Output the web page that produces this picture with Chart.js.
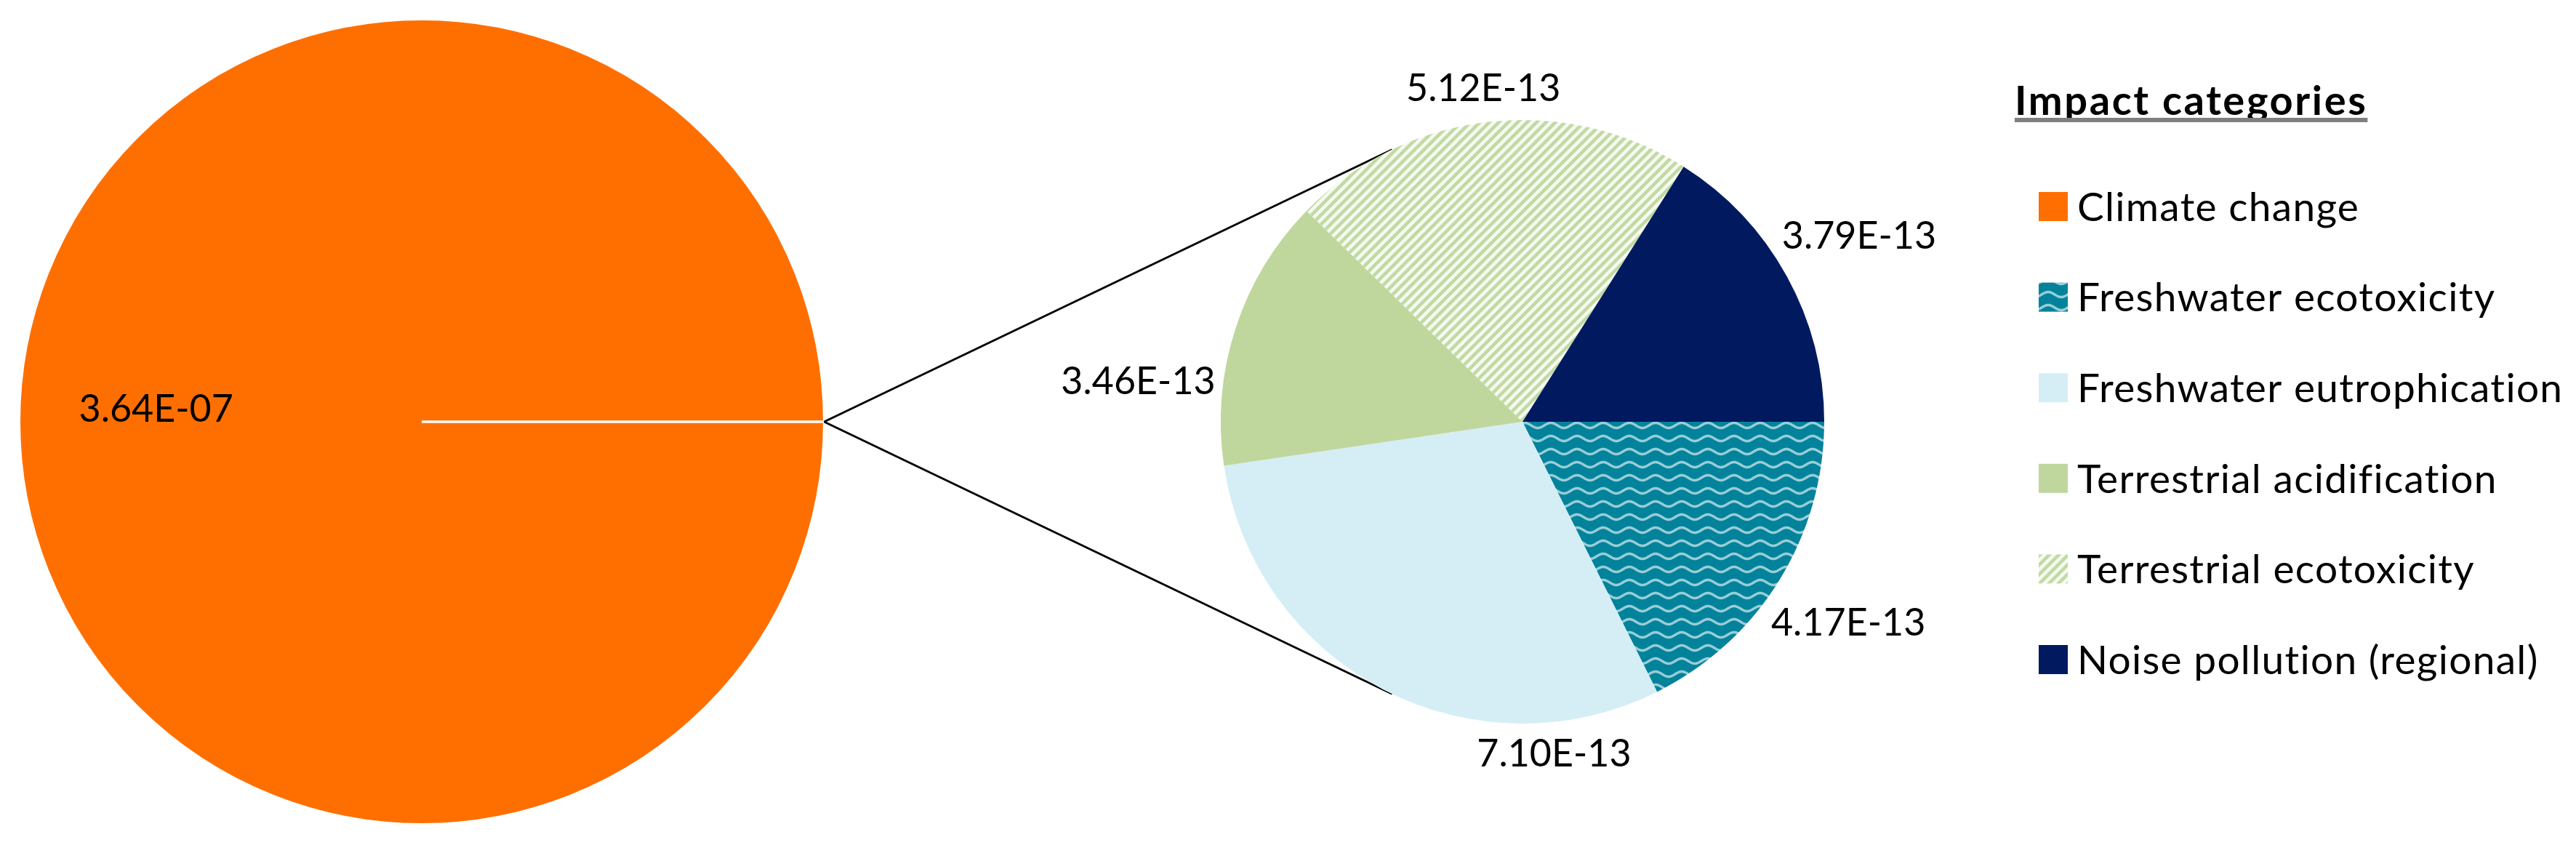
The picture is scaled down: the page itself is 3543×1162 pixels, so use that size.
<!DOCTYPE html>
<html>
<head>
<meta charset="utf-8">
<script src="https://cdn.jsdelivr.net/npm/chart.js@4.4.1/dist/chart.umd.min.js"></script>
<style>
  html, body { margin: 0; padding: 0; background: #fff; }
  #wrap { position: relative; width: 3543px; height: 1162px; overflow: hidden; }
  #wrap canvas { position: absolute; left: 0; top: 0; }
</style>
</head>
<body>
<div id="wrap">
  <canvas id="chartMain" width="3543" height="1162"></canvas>
  <canvas id="chartDetail" width="3543" height="1162"></canvas>
</div>
<script>
// data
const mainCategory = 'Climate change';
const mainValue = 3.64e-7;
const detailCategories = [
  'Freshwater ecotoxicity',
  'Freshwater eutrophication',
  'Terrestrial acidification',
  'Terrestrial ecotoxicity',
  'Noise pollution (regional)',
];
const detailValues = [4.17e-13, 7.10e-13, 3.46e-13, 5.12e-13, 3.79e-13];
const legendTitle = 'Impact categories';

// fills
function wavePattern(base, line) {
  const c = document.createElement('canvas');
  c.width = 36;
  c.height = 18;
  const x = c.getContext('2d');
  x.fillStyle = base;
  x.fillRect(0, 0, 36, 18);
  x.strokeStyle = line;
  x.lineWidth = 3.5;
  x.beginPath();
  for (let i = -2; i <= 38; i++) {
    const yy = 9 - 3.5 * Math.sin((i / 36) * 2 * Math.PI);
    if (i === -2) x.moveTo(i, yy);
    else x.lineTo(i, yy);
  }
  x.stroke();
  return x.createPattern(c, 'repeat');
}

function hatchPattern(base, line) {
  const s = 13;
  const c = document.createElement('canvas');
  c.width = s;
  c.height = s;
  const x = c.getContext('2d');
  x.fillStyle = base;
  x.fillRect(0, 0, s, s);
  x.strokeStyle = line;
  x.lineWidth = 4.5;
  x.beginPath();
  x.moveTo(-s / 2, s / 2);
  x.lineTo(s / 2, -s / 2);
  x.moveTo(0, s);
  x.lineTo(s, 0);
  x.moveTo(s / 2, s * 1.5);
  x.lineTo(s * 1.5, s / 2);
  x.stroke();
  return x.createPattern(c, 'repeat');
}

const mainColor = '#ff6f00';
const detailColors = [
  wavePattern('#02839b', 'rgba(255,255,255,0.6)'),
  '#d5eef6',
  '#bfd79d',
  hatchPattern('#c2daa3', '#f6faf1'),
  '#011a5f',
];

function sci(v) {
  const [m, e] = v.toExponential(2).split('e');
  const n = Math.abs(parseInt(e, 10));
  return m + 'E' + (e[0] === '-' ? '-' : '+') + String(n).padStart(2, '0');
}

const valueLabels = {
  id: 'valueLabels',
  afterDatasetsDraw(chart, args, opts) {
    const ctx = chart.ctx;
    const meta = chart.getDatasetMeta(0);
    const values = chart.data.datasets[0].data;
    ctx.save();
    ctx.font = opts.size + 'px Lato';
    ctx.fillStyle = '#000';
    meta.data.forEach((arc, i) => {
      const name = chart.data.labels[i];
      if (name === opts.skipLabel) return;
      const p = arc.getProps(['x', 'y', 'startAngle', 'endAngle', 'outerRadius'], true);
      const shift = (opts.shift && opts.shift[name]) || 0;
      const a = (p.startAngle + p.endAngle) / 2 + (shift * Math.PI) / 180;
      const ux = Math.cos(a);
      const uy = Math.sin(a);
      const text = sci(values[i]);
      if (opts.inside) {
        ctx.textAlign = 'center';
        ctx.textBaseline = 'alphabetic';
        ctx.fillText(text, p.x + ux * p.outerRadius * opts.inside, p.y + uy * p.outerRadius * opts.inside);
      } else {
        const w = ctx.measureText(text).width;
        const d = p.outerRadius + opts.gap + (Math.abs(ux) * w) / 2 + (Math.abs(uy) * opts.size) / 2;
        ctx.textAlign = 'center';
        ctx.textBaseline = 'middle';
        ctx.fillText(text, p.x + ux * d, p.y + uy * d);
      }
    });
    ctx.restore();
  },
};

const chartMain = new Chart(document.getElementById('chartMain'), {
  type: 'pie',
  data: {
    labels: [mainCategory, 'Other'],
    datasets: [
      {
        data: [mainValue, detailValues.reduce((a, b) => a + b, 0)],
        backgroundColor: [mainColor, mainColor],
        borderColor: '#ffffff',
        borderWidth: 3,
      },
    ],
  },
  options: {
    responsive: false,
    animation: false,
    events: [],
    rotation: 90,
    layout: { padding: { left: 25, top: 25, right: 2408, bottom: 27 } },
    plugins: {
      legend: { display: false },
      tooltip: { enabled: false },
      valueLabels: { size: 52, inside: 0.66, skipLabel: 'Other' },
    },
  },
  plugins: [valueLabels],
});

// series lines from the big pie to the small one
const connectors = {
  id: 'connectors',
  beforeDatasetsDraw(chart) {
    const ctx = chart.ctx;
    const bp = chartMain
      .getDatasetMeta(0)
      .data[1].getProps(['x', 'y', 'startAngle', 'endAngle', 'outerRadius'], true);
    const a = (bp.startAngle + bp.endAngle) / 2;
    const px = bp.x + bp.outerRadius * Math.cos(a);
    const py = bp.y + bp.outerRadius * Math.sin(a);
    const sp = chart.getDatasetMeta(0).data[0].getProps(['x', 'y', 'outerRadius'], true);
    const d = Math.hypot(px - sp.x, py - sp.y);
    const base = Math.atan2(py - sp.y, px - sp.x);
    const t = Math.acos(sp.outerRadius / d);
    ctx.save();
    ctx.strokeStyle = '#000';
    ctx.lineWidth = 3;
    [base - t, base + t].forEach((ang) => {
      ctx.beginPath();
      ctx.moveTo(px, py);
      ctx.lineTo(sp.x + sp.outerRadius * Math.cos(ang), sp.y + sp.outerRadius * Math.sin(ang));
      ctx.stroke();
    });
    ctx.restore();
  },
};

const sideLegend = {
  id: 'sideLegend',
  afterDraw(chart, args, opts) {
    const ctx = chart.ctx;
    const names = [mainCategory, ...detailCategories];
    const fills = [mainColor, ...detailColors];
    ctx.save();
    ctx.textAlign = 'left';
    ctx.textBaseline = 'alphabetic';
    ctx.font = 'bold ' + opts.titleSize + 'px Lato';
    ctx.letterSpacing = opts.titleSpacing;
    ctx.fillStyle = '#000';
    ctx.fillText(legendTitle, opts.x, opts.titleY);
    const tw = ctx.measureText(legendTitle).width;
    ctx.fillStyle = '#7f7f7f';
    ctx.fillRect(opts.x, opts.titleY + 4, tw, 6);
    ctx.font = opts.size + 'px Lato';
    ctx.letterSpacing = opts.spacing;
    names.forEach((n, i) => {
      const yc = opts.firstY + i * opts.step;
      ctx.fillStyle = fills[i];
      ctx.fillRect(opts.boxX, yc - opts.box / 2, opts.box, opts.box);
      ctx.fillStyle = '#000';
      ctx.fillText(n, opts.boxX + opts.box + 13, yc + opts.size * 0.36);
    });
    ctx.restore();
  },
};

const chartDetail = new Chart(document.getElementById('chartDetail'), {
  type: 'pie',
  data: {
    labels: detailCategories,
    datasets: [
      {
        data: detailValues,
        backgroundColor: detailColors,
        borderWidth: 0,
      },
    ],
  },
  options: {
    responsive: false,
    animation: false,
    events: [],
    rotation: 90,
    layout: { padding: { left: 1679, top: 165, right: 1034, bottom: 167 } },
    plugins: {
      legend: { display: false },
      tooltip: { enabled: false },
      valueLabels: {
        size: 52,
        gap: 8,
        shift: { 'Freshwater eutrophication': -33, 'Terrestrial acidification': -12 },
      },
      sideLegend: {
        size: 55,
        spacing: '1.3px',
        titleSize: 56,
        titleSpacing: '2.6px',
        x: 2771,
        titleY: 158,
        boxX: 2804,
        box: 40,
        firstY: 284,
        step: 124.6,
      },
    },
  },
  plugins: [connectors, valueLabels, sideLegend],
});
</script>
</body>
</html>
